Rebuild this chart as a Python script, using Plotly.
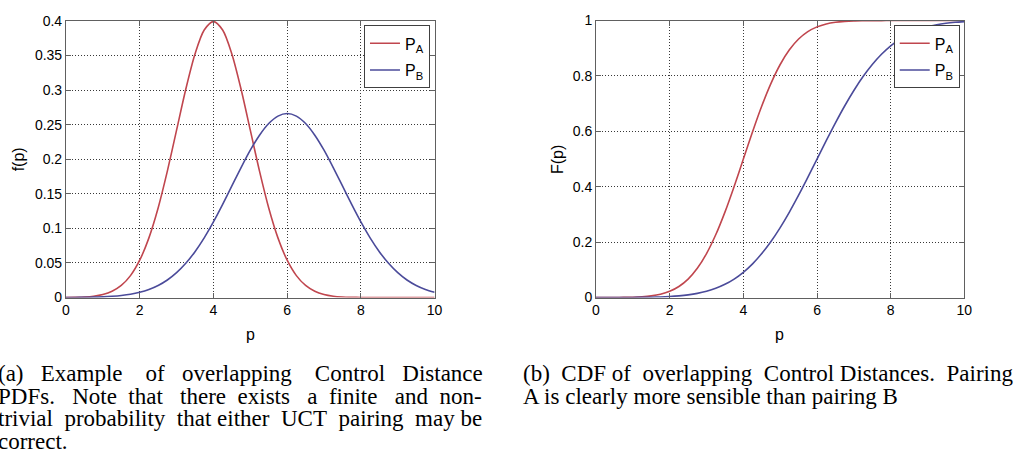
import plotly.graph_objects as go

W, H = 1029, 460

# ---------------- data ----------------
p_vals = [0.0, 0.25, 0.5, 0.75, 1.0, 1.25, 1.5, 1.75, 2.0, 2.25, 2.5, 2.75, 3.0, 3.25,
          3.5, 3.75, 4.0, 4.25, 4.5, 4.75, 5.0, 5.25, 5.5, 5.75, 6.0, 6.25, 6.5, 6.75,
          7.0, 7.25, 7.5, 7.75, 8.0, 8.25, 8.5, 8.75, 9.0, 9.25, 9.5, 9.75, 10.0]

pdf_A = [0.0001, 0.0004, 0.0009, 0.002, 0.0044, 0.0091, 0.0175, 0.0317, 0.054, 0.0863,
         0.1295, 0.1827, 0.242, 0.3011, 0.3521, 0.3867, 0.3989, 0.3867, 0.3521, 0.3011,
         0.242, 0.1827, 0.1295, 0.0863, 0.054, 0.0317, 0.0175, 0.0091, 0.0044, 0.002,
         0.0009, 0.0004, 0.0001, 0.0, 0.0, 0.0, 0.0, 0.0, 0.0, 0.0, 0.0]
pdf_B = [0.0001, 0.0002, 0.0003, 0.0006, 0.001, 0.0018, 0.003, 0.0048, 0.0076, 0.0117,
         0.0175, 0.0254, 0.036, 0.0495, 0.0663, 0.0863, 0.1093, 0.1347, 0.1613, 0.1879,
         0.213, 0.2347, 0.2516, 0.2623, 0.266, 0.2623, 0.2516, 0.2347, 0.213, 0.1879,
         0.1613, 0.1347, 0.1093, 0.0863, 0.0663, 0.0495, 0.036, 0.0254, 0.0175, 0.0117,
         0.0076]

cdf_A = [0.0, 0.0001, 0.0002, 0.0006, 0.0013, 0.003, 0.0062, 0.0122, 0.0228, 0.0401,
         0.0668, 0.1057, 0.1587, 0.2266, 0.3085, 0.4013, 0.5, 0.5987, 0.6915, 0.7734,
         0.8413, 0.8944, 0.9332, 0.9599, 0.9772, 0.9878, 0.9938, 0.997, 0.9987, 0.9994,
         0.9998, 0.9999, 1.0, 1.0, 1.0, 1.0, 1.0, 1.0, 1.0, 1.0, 1.0]
cdf_B = [0.0, 0.0001, 0.0001, 0.0002, 0.0004, 0.0008, 0.0014, 0.0023, 0.0038, 0.0062,
         0.0098, 0.0151, 0.0228, 0.0334, 0.0478, 0.0668, 0.0912, 0.1217, 0.1587, 0.2023,
         0.2525, 0.3085, 0.3694, 0.4338, 0.5, 0.5662, 0.6306, 0.6915, 0.7475, 0.7977,
         0.8413, 0.8783, 0.9088, 0.9332, 0.9522, 0.9666, 0.9772, 0.9849, 0.9902, 0.9938,
         0.9962]

series_names = ["P<sub>A</sub>", "P<sub>B</sub>"]
x_ticks = [0, 2, 4, 6, 8, 10]
y_ticks_pdf = [0, 0.05, 0.1, 0.15, 0.2, 0.25, 0.3, 0.35, 0.4]
y_ticks_cdf = [0, 0.2, 0.4, 0.6, 0.8, 1]

caption_a = [
    ["(a)", "Example", "of", "overlapping", "Control", "Distance"],
    ["PDFs.", "Note", "that", "there", "exists", "a", "finite", "and", "non-"],
    ["trivial", "probability", "that", "either", "UCT", "pairing", "may", "be"],
    ["correct."],
]
caption_b = [
    ["(b)", "CDF", "of", "overlapping", "Control", "Distances.", "Pairing"],
    ["A", "is", "clearly", "more", "sensible", "than", "pairing", "B"],
]

# ---------------- styling ----------------
RED = "#c0464e"
BLUE = "#4b4b9a"
SANS = "Liberation Sans, Arial, sans-serif"
SERIF = "Liberation Serif, Times New Roman, serif"
CAP_SIZE = 23
NBSP = "\u00a0"


def px(x):
    return x / W


def py(y):
    return 1 - y / H


fig = go.Figure()

for i, (name, vals, col) in enumerate([(series_names[0], pdf_A, RED), (series_names[1], pdf_B, BLUE)]):
    fig.add_trace(go.Scatter(x=p_vals, y=vals, mode="lines", name=name, legendgroup=f"a{i}",
                             line=dict(color=col, width=1.6, shape="spline", smoothing=0.8),
                             xaxis="x", yaxis="y", legend="legend"))
for i, (name, vals, col) in enumerate([(series_names[0], cdf_A, RED), (series_names[1], cdf_B, BLUE)]):
    fig.add_trace(go.Scatter(x=p_vals, y=vals, mode="lines", name=name, legendgroup=f"b{i}",
                             line=dict(color=col, width=1.6, shape="spline", smoothing=0.8),
                             xaxis="x2", yaxis="y2", legend="legend2"))

axis_common = dict(
    showline=True, linecolor="#606060", linewidth=1, mirror="ticks",
    ticks="inside", ticklen=5, tickcolor="#606060",
    showgrid=True, gridcolor="#383838", griddash="1px,2px", gridwidth=1,
    zeroline=False, tickfont=dict(family=SANS, size=14, color="black"),
    layer="above traces",
)

legend_common = dict(
    xanchor="right", yanchor="top",
    bgcolor="white", bordercolor="#404040", borderwidth=1,
    font=dict(family=SANS, size=16, color="black"),
    tracegroupgap=3, itemwidth=30,
)

fig.update_layout(
    width=W, height=H,
    margin=dict(l=0, r=0, t=0, b=0, pad=0),
    paper_bgcolor="white", plot_bgcolor="white",
    showlegend=True,
    xaxis=dict(domain=[px(62.7), px(435.7)], range=[0, 10], tickvals=x_ticks,
               anchor="y", **axis_common),
    yaxis=dict(domain=[py(300), py(13.3)], range=[0, 0.4], tickvals=y_ticks_pdf,
               anchor="x", **axis_common),
    xaxis2=dict(domain=[px(599), px(971.7)], range=[0, 10], tickvals=x_ticks,
                anchor="y2", **axis_common),
    yaxis2=dict(domain=[py(300), py(13)], range=[0, 1], tickvals=y_ticks_cdf,
                anchor="x2", **axis_common),
    legend=dict(x=px(431), y=py(18), **legend_common),
    legend2=dict(x=px(967), y=py(18), **legend_common),
)

annotations = []
# axis titles
for txt, x, y, ang in [("f(p)", 15, 157, -90), ("F(p)", 560, 157, -90),
                       ("p", 249, 338, 0), ("p", 785, 338, 0)]:
    annotations.append(dict(text=txt, x=px(x), y=py(y), xref="paper", yref="paper",
                            xanchor="center", yanchor="middle", showarrow=False,
                            textangle=ang, font=dict(family=SANS, size=16, color="black")))

# approximate glyph widths of Liberation Serif (per 1000 em), used to justify lines
TW = {' ': 250, '(': 333, ')': 333, '.': 250, '-': 333,
      'a': 444, 'b': 500, 'c': 444, 'd': 500, 'e': 444, 'f': 333, 'g': 500, 'h': 500,
      'i': 278, 'j': 278, 'k': 500, 'l': 278, 'm': 778, 'n': 500, 'o': 500, 'p': 500,
      'q': 500, 'r': 333, 's': 389, 't': 278, 'u': 500, 'v': 500, 'w': 722, 'x': 500,
      'y': 500, 'z': 444, 'A': 722, 'B': 667, 'C': 667, 'D': 722, 'E': 611, 'F': 556,
      'N': 722, 'P': 556, 'T': 611, 'U': 722}


def word_w(w):
    return sum(TW.get(c, 500) for c in w) / 1000 * CAP_SIZE


def justify(words, width, last):
    """Build one line of text, padded with no-break spaces so it spans `width` pixels."""
    sp = 0.25 * CAP_SIZE
    widths = [word_w(w) for w in words]
    if last or len(words) == 1:
        return " ".join(words)
    gap = (width - sum(widths)) / (len(words) - 1)
    out = words[0]
    cur = widths[0]
    target = widths[0]
    for w, wd in zip(words[1:], widths[1:]):
        target += gap
        n = max(1, int(round((target - cur) / sp)))
        out += NBSP * n + w
        cur += n * sp + wd
        target += wd
    return out


def place_caption(lines, left, width, ys):
    for i, (words, y) in enumerate(zip(lines, ys)):
        txt = justify(words, width, i == len(lines) - 1)
        annotations.append(dict(text=txt, x=px(left), y=py(y), xref="paper", yref="paper",
                                xanchor="left", yanchor="middle", showarrow=False,
                                borderpad=0, align="left",
                                font=dict(family=SERIF, size=CAP_SIZE, color="black")))


place_caption(caption_a, -7, 486, [379, 402, 425, 449])
place_caption(caption_b, 524, 491, [379, 402])

fig.update_layout(annotations=annotations)

fig.write_html("out.html")
